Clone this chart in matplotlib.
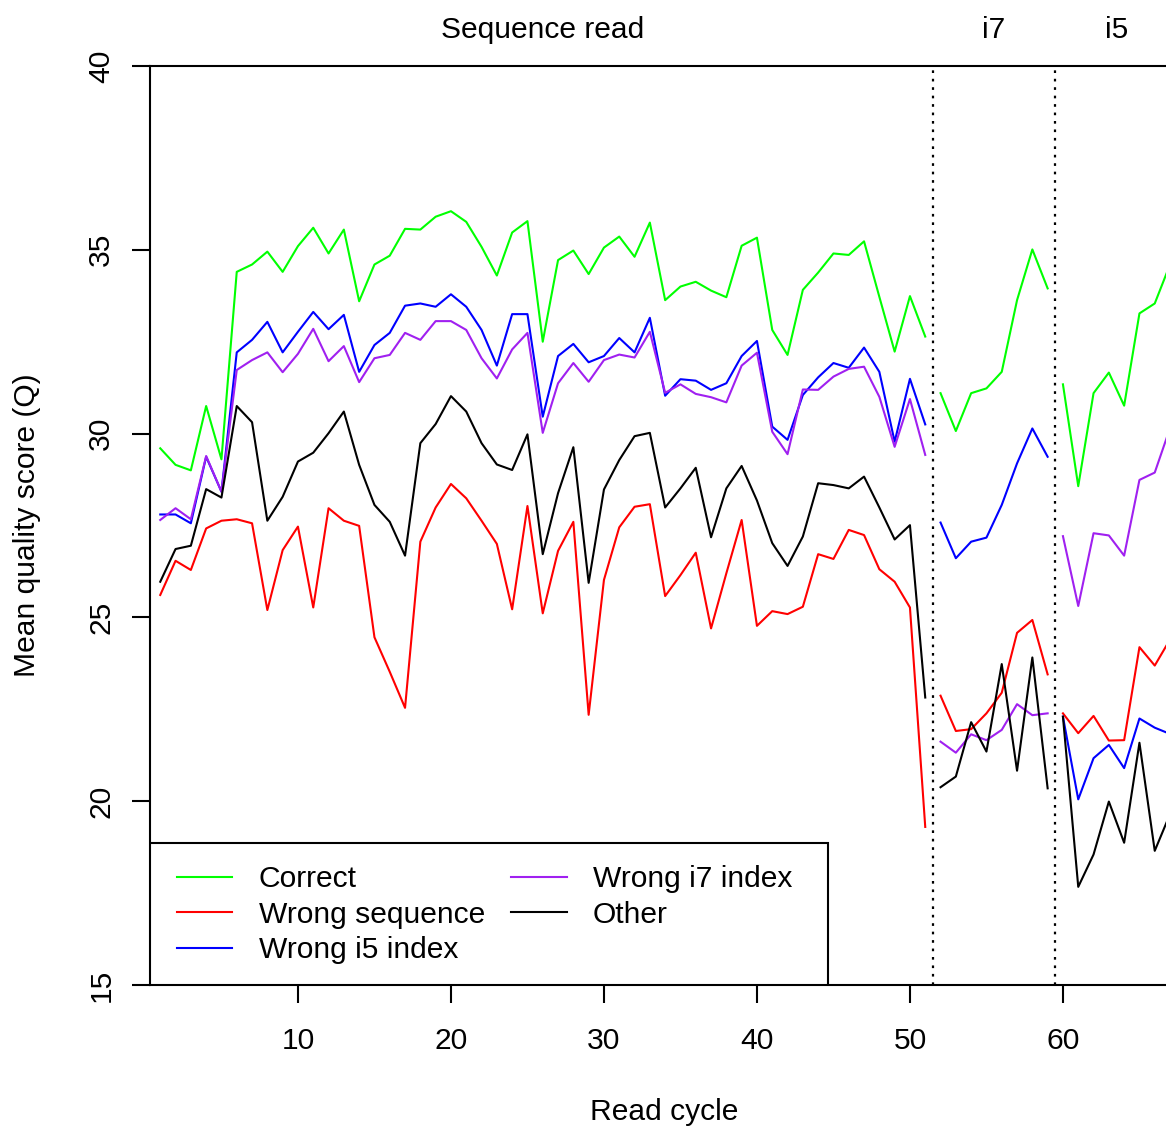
import matplotlib.pyplot as plt
from matplotlib.patches import Rectangle
import numpy as np

# read cycles: sequence read 1-51, i7 index 52-59, i5 index 60-67
cycles = list(range(1, 68))
segments = [(1, 51), (52, 59), (60, 67)]

correct = [29.6, 29.15, 29.0, 30.75, 29.3, 34.4, 34.6, 34.95, 34.4, 35.1,
           35.6, 34.9, 35.55, 33.6, 34.6, 34.84, 35.57, 35.55, 35.9, 36.05,
           35.76, 35.08, 34.3, 35.47, 35.78, 32.5, 34.72, 34.98, 34.34, 35.06,
           35.36, 34.81, 35.74, 33.63, 34.0, 34.13, 33.89, 33.71, 35.11, 35.33,
           32.82, 32.14, 33.91, 34.38, 34.9, 34.86, 35.23, 33.72, 32.23, 33.74,
           32.64,
           31.1, 30.07, 31.1, 31.23, 31.68, 33.63, 35.01, 33.95,
           31.34, 28.57, 31.1, 31.66, 30.76, 33.27, 33.54, 34.6]

wrong_seq = [25.61, 26.54, 26.29, 27.42, 27.63, 27.67, 27.56, 25.2, 26.83, 27.47,
             25.27, 27.97, 27.63, 27.49, 24.46, 23.52, 22.54, 27.06, 27.99, 28.63,
             28.24, 27.63, 27.0, 25.22, 28.03, 25.11, 26.81, 27.6, 22.35, 26.02,
             27.45, 28.01, 28.08, 25.58, 26.15, 26.76, 24.7, 26.2, 27.65, 24.77,
             25.17, 25.09, 25.29, 26.72, 26.59, 27.38, 27.24, 26.31, 25.97, 25.27,
             19.3,
             22.87, 21.91, 21.96, 22.39, 22.95, 24.58, 24.93, 23.45,
             22.39, 21.85, 22.32, 21.65, 21.66, 24.19, 23.69, 24.4]

wrong_i5 = [27.8, 27.8, 27.56, 29.37, 28.42, 32.21, 32.55, 33.04, 32.21, 32.77,
            33.31, 32.84, 33.23, 31.68, 32.41, 32.74, 33.48, 33.54, 33.45, 33.79,
            33.45, 32.82, 31.85, 33.25, 33.25, 30.46, 32.11, 32.44, 31.94, 32.11,
            32.6, 32.21, 33.15, 31.03, 31.48, 31.44, 31.19, 31.37, 32.11, 32.52,
            30.19, 29.83, 31.05, 31.53, 31.92, 31.79, 32.34, 31.68, 29.78, 31.49,
            30.25,
            27.58, 26.61, 27.06, 27.17, 28.06, 29.19, 30.14, 29.37,
            22.3, 20.05, 21.17, 21.53, 20.9, 22.25, 22.0, 21.83]

wrong_i7 = [27.65, 27.97, 27.67, 29.39, 28.42, 31.73, 32.0, 32.21, 31.67, 32.17,
            32.85, 31.97, 32.38, 31.4, 32.05, 32.14, 32.74, 32.55, 33.06, 33.06,
            32.82, 32.05, 31.5, 32.29, 32.74, 30.02, 31.37, 31.92, 31.41, 32.0,
            32.15, 32.07, 32.77, 31.11, 31.34, 31.08, 30.99, 30.85, 31.85, 32.2,
            30.05, 29.44, 31.2, 31.19, 31.55, 31.76, 31.82, 31.0, 29.64, 30.94,
            29.42,
            21.62, 21.32, 21.82, 21.66, 21.94, 22.64, 22.34, 22.39,
            27.21, 25.31, 27.29, 27.23, 26.68, 28.74, 28.94, 30.15]

other = [25.97, 26.86, 26.95, 28.49, 28.26, 30.75, 30.31, 27.63, 28.28, 29.24,
         29.48, 30.01, 30.6, 29.15, 28.06, 27.6, 26.68, 29.74, 30.26, 31.02,
         30.6, 29.74, 29.16, 29.01, 29.98, 26.72, 28.38, 29.63, 25.94, 28.48,
         29.28, 29.93, 30.02, 27.99, 28.51, 29.07, 27.18, 28.51, 29.12, 28.18,
         27.02, 26.4, 27.2, 28.65, 28.6, 28.51, 28.83, 27.99, 27.12, 27.51,
         22.82,
         20.38, 20.67, 22.15, 21.35, 23.73, 20.83, 23.91, 20.35,
         22.3, 17.67, 18.55, 19.99, 18.87, 21.59, 18.65, 19.65]

series_names = ["Correct", "Wrong sequence", "Wrong i5 index", "Wrong i7 index", "Other"]
series_colors = ["#00FF00", "#FF0000", "#0000FF", "#A020F0", "#000000"]
series_values = [correct, wrong_seq, wrong_i5, wrong_i7, other]

section_labels = ["Sequence read", "i7", "i5"]
section_breaks = [51.5, 59.5]

FS = 21.6
plt.rcParams['font.family'] = ['Liberation Sans', 'DejaVu Sans']
plt.rcParams['font.size'] = FS

fig = plt.figure(figsize=(11.66, 11.27), dpi=100)
ax = fig.add_axes([150/1166, 1 - 985/1127, 1028/1166, 919/1127])

x = np.array(cycles)
for name, col, vals in zip(series_names, series_colors, series_values):
    vals = np.array(vals)
    for k, (a, b) in enumerate(segments):
        m = (x >= a) & (x <= b)
        ax.plot(x[m], vals[m], color=col, lw=1.5, label=name if k == 0 else None)

for xb in section_breaks:
    ax.axvline(xb, color='black', lw=1.6, linestyle=(0, (1.2, 2.6)))

ax.set_xlim(0.33, 67.52)
ax.set_ylim(15, 40)
ax.set_xticks([10, 20, 30, 40, 50, 60])
ax.set_yticks([15, 20, 25, 30, 35, 40])
ax.tick_params(axis='x', direction='out', length=13, width=1.5, pad=17, labelsize=FS)
ax.tick_params(axis='y', direction='out', length=13, width=1.5, pad=12, labelsize=FS,
               labelrotation=90)
for lab in ax.get_yticklabels():
    lab.set_va('center')
for sp in ['top', 'left', 'bottom']:
    ax.spines[sp].set_linewidth(1.5)
ax.spines['right'].set_visible(False)

# section titles above the plot
mids = [(segments[i][0] + segments[i][1]) / 2 for i in range(3)]
for lbl, xm in zip(section_labels, mids):
    ax.text(xm, 1.039, lbl, transform=ax.get_xaxis_transform(),
            ha='center', va='center', fontsize=FS)

fig.text(664/1166, 1 - 1112/1127, "Read cycle", ha='center', va='center', fontsize=FS)
fig.text(27/1166, 1 - 525/1127, "Mean quality score (Q)", ha='center', va='center',
         rotation=90, fontsize=FS)

# legend box (R style, fixed size in the lower left corner)
ax.add_patch(Rectangle((0, 0), 0.6595, 0.1545, transform=ax.transAxes,
                       facecolor='white', edgecolor='black', lw=1.5, zorder=4))
leg = ax.legend(loc='lower left', bbox_to_anchor=(0.0259, 0.0226), ncol=2, fontsize=FS,
                frameon=False, borderaxespad=0, borderpad=0,
                handlelength=1.85, handletextpad=0.88, columnspacing=0.88,
                labelspacing=0.25)
leg.set_zorder(5)

fig.savefig("out.png", dpi=100)
